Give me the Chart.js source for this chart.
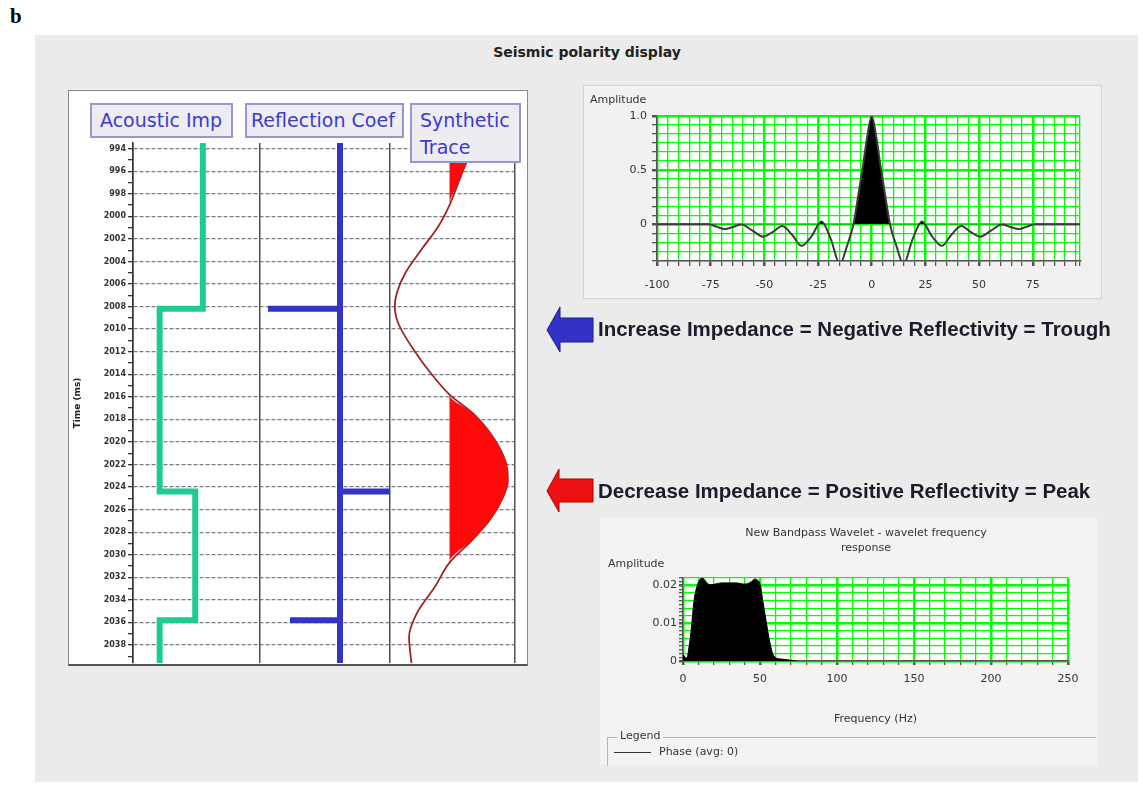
<!DOCTYPE html>
<html>
<head>
<meta charset="utf-8">
<script src="https://cdn.jsdelivr.net/npm/chart.js@4.4.1/dist/chart.umd.min.js"></script>
<style>
html,body{margin:0;padding:0;background:#fff;width:1143px;height:785px;overflow:hidden;position:relative;font-family:"DejaVu Sans",sans-serif;}
.abs{position:absolute;}
#lblB{left:10px;top:4px;font:bold 21px "Liberation Serif",serif;color:#000;}
#bg{left:35px;top:35px;width:1103px;height:747px;background:#ebebeb;}
#title{left:387px;top:44px;width:400px;text-align:center;font:bold 14px "DejaVu Sans",sans-serif;color:#222;}
#leftPanel{left:68px;top:90px;width:458px;height:573px;background:#fff;border:1px solid #8a8a8a;border-bottom:2px solid #555;}
#c1{left:68px;top:90px;z-index:2;}
.hdr{position:absolute;z-index:3;background:#ececf1;border:2px solid #9797cf;color:#3b3bd0;font:19px "DejaVu Sans",sans-serif;box-sizing:border-box;padding-left:8px;white-space:nowrap;}
#trPanel{left:583px;top:85px;width:517px;height:212px;background:#f1f1f1;border:1px solid #d2d2d2;}
#c2{left:583px;top:85px;z-index:2;}
.small{position:absolute;z-index:3;font:11px "DejaVu Sans",sans-serif;color:#333;white-space:nowrap;}
#brPanel{left:600px;top:517px;width:497px;height:248px;background:#f3f3f3;}
#c3{left:600px;top:517px;z-index:2;}
.msg{position:absolute;z-index:3;font:bold 20.5px "Liberation Sans",Arial,sans-serif;color:#1b1b2b;white-space:nowrap;}
#legFrame{left:607px;top:737px;width:488px;height:28px;border-top:1px solid #b4b4b4;border-left:1px solid #b4b4b4;z-index:3;}
</style>
</head>
<body>
<div id="lblB" class="abs">b</div>
<div id="bg" class="abs"></div>
<div id="title" class="abs">Seismic polarity display</div>

<div id="leftPanel" class="abs"></div>
<canvas id="c1" class="abs" width="459" height="581"></canvas>
<div class="hdr" style="left:90px;top:103px;width:143px;height:35px;line-height:31px;">Acoustic Imp</div>
<div class="hdr" style="left:245px;top:103px;width:159px;height:35px;line-height:31px;padding-left:4px;">Reflection Coef</div>
<div class="hdr" style="left:410px;top:103px;width:111px;height:60px;line-height:27px;padding-top:2px;">Synthetic<br>Trace</div>

<div id="trPanel" class="abs"></div>
<canvas id="c2" class="abs" width="518" height="213"></canvas>
<div class="small" style="left:590px;top:93px;">Amplitude</div>

<svg class="abs" style="left:0;top:0;z-index:3;" width="1143" height="785">
  <polygon points="547,330 560,307 560,318 593,318 593,342 560,342 560,352" fill="#3232c8" stroke="#1d1d86" stroke-width="1"/>
  <polygon points="547,491 559,469 559,479 593,479 593,502 559,502 559,512" fill="#ee1111" stroke="#a80000" stroke-width="1"/>
</svg>
<div class="msg" style="left:598px;top:317px;">Increase Impedance = Negative Reflectivity = Trough</div>
<div class="msg" style="left:598px;top:479px;">Decrease Impedance = Positive Reflectivity = Peak</div>

<div id="brPanel" class="abs"></div>
<canvas id="c3" class="abs" width="497" height="209"></canvas>
<div class="small" style="left:600px;top:525px;width:532px;text-align:center;line-height:15px;">New Bandpass Wavelet - wavelet frequency<br>response</div>
<div class="small" style="left:608px;top:557px;">Amplitude</div>
<div id="legFrame" class="abs"></div>
<div class="small" style="left:617px;top:729px;background:#f3f3f3;padding:0 3px;">Legend</div>
<div class="abs" style="left:614px;top:752px;width:37px;height:0;border-top:1.5px solid #333;z-index:3;"></div>
<div class="small" style="left:659px;top:745px;">Phase (avg: 0)</div>

<script>
// ---------------- data ----------------
const timeMin = 1993.5, timeMax = 2039.6;
const timeTickValues = [1994,1996,1998,2000,2002,2004,2006,2008,2010,2012,2014,2016,2018,2020,2022,2024,2026,2028,2030,2032,2034,2036,2038];
const timeTickLabels = ['994','996','998','2000','2002','2004','2006','2008','2010','2012','2014','2016','2018','2020','2022','2024','2026','2028','2030','2032','2034','2036','2038'];

const impLayerTops = [2008.2, 2024.4, 2035.8];
const impValues = [5.5, 2.1, 4.9, 2.1];

const rcTimes = [2008.2, 2024.4, 2035.8];
const rcValues = [-0.72, 0.5, -0.5];

const synTimes = [1993.5,1995,1997,1999,2001,2003,2005,2006.7,2008,2009.5,2012,2014,2015.8,2017.5,2019.8,2021.9,2023.4,2024.9,2026.9,2028.7,2030.7,2032.8,2035.2,2037.3,2039.6];
const synAmps  = [0.42,0.3,0.15,0,-0.2,-0.48,-0.74,-0.88,-0.92,-0.86,-0.58,-0.3,0,0.4,0.76,0.95,0.98,0.9,0.68,0.38,0,-0.24,-0.55,-0.68,-0.64];

const waveletTimes = [-100,-76,-72,-68.5,-64.5,-60.7,-55.5,-50.6,-46,-41.7,-37,-32.7,-28,-23.4,-19,-14.8,-11.5,-8.5,-6,-4,-2,0,2,4,6,8.5,11.5,14.8,19,23.4,28,32.7,37,41.7,46,50.6,55.5,60.7,64.5,68.5,72,76,97];
const waveletAmps  = [0,0,-0.025,-0.045,-0.025,-0.003,-0.06,-0.115,-0.07,-0.016,-0.1,-0.2,-0.11,0.025,-0.14,-0.37,-0.2,0,0.3,0.55,0.82,1.0,0.82,0.55,0.3,0,-0.2,-0.37,-0.14,0.025,-0.11,-0.2,-0.1,-0.016,-0.07,-0.115,-0.06,-0.003,-0.025,-0.045,-0.025,0,0];
const waveletTickValues = [-100,-75,-50,-25,0,25,50,75];
const waveletTickLabels = ['-100','-75','-50','-25','0','25','50','75'];
const ampTickValues = [0,0.5,1.0];
const ampTickLabels = ['0','0.5','1.0'];

const spectrumFreqs = [0,1,2.5,4,5.5,7,9,11,12.5,14,16,18,21,25,30,35,39,42,44.5,46.5,48.5,50,52,54,56,58,60,64,70,74];
const spectrumAmps  = [0.0016,0.0012,0.0008,0.004,0.009,0.0155,0.0197,0.0216,0.0221,0.0215,0.0205,0.0202,0.0204,0.0207,0.0207,0.0207,0.0204,0.0205,0.0211,0.0217,0.0214,0.0204,0.0155,0.0105,0.0058,0.0022,0.0009,0.0005,0.0002,0];
const freqTickValues = [0,50,100,150,200,250];
const freqTickLabels = ['0','50','100','150','200','250'];
const specTickValues = [0,0.01,0.02];
const specTickLabels = ['0','0.01','0.02'];

// ---------------- helpers ----------------
const near = (a,b)=>Math.abs(a-b)<1e-7;
const labelFor = (vals, labs) => (v)=>{ for (let i=0;i<vals.length;i++) if (near(vals[i],v)) return labs[i]; return ''; };
const isIn = (vals,v)=>vals.some(x=>near(x,v));
const plotBg = {id:'plotBg', beforeDraw(chart){const {ctx, chartArea:a}=chart; ctx.save(); ctx.fillStyle='#ffffff'; ctx.fillRect(a.left,a.top,a.width,a.height); ctx.restore();}};
Chart.defaults.font.family = '"DejaVu Sans", sans-serif';

// ---------------- left: well tracks ----------------
const bounds = [timeMin, ...impLayerTops, timeMax];
const impPoints = [];
impValues.forEach((v,i)=>{ impPoints.push({x:v,y:bounds[i]},{x:v,y:bounds[i+1]}); });
const rcPoints = [{x:0,y:timeMin}];
rcTimes.forEach((t,i)=>{ rcPoints.push({x:0,y:t},{x:rcValues[i],y:t},{x:0,y:t}); });
rcPoints.push({x:0,y:timeMax});
const synPoints = synTimes.map((t,i)=>({x:synAmps[i],y:t}));
const synFill = synTimes.map((t,i)=>({x:Math.max(0,synAmps[i]),y:t}));

const trackAxis = (w,min,max,both)=>({
  type:'linear', position:'bottom', stack:'tracks', stackWeight:w, min:min, max:max,
  ticks:{display:false}, grid:{drawTicks:false, color:'#505050', lineWidth:1.5}, border:{display:false},
  afterBuildTicks:(s)=>{ s.ticks = both ? [{value:min},{value:max}] : [{value:min}]; }
});

new Chart(document.getElementById('c1'), {
  type:'line',
  data:{datasets:[
    {label:'Acoustic Imp', data:impPoints, xAxisID:'xImp', yAxisID:'y', borderColor:'#1fcb93', borderWidth:6, pointRadius:0, tension:0, fill:false},
    {label:'Reflection Coef', data:rcPoints, xAxisID:'xRc', yAxisID:'y', borderColor:'#3434c4', borderWidth:6, pointRadius:0, tension:0, fill:false},
    {label:'Synthetic fill', data:synFill, xAxisID:'xSyn', yAxisID:'y', borderWidth:0, borderColor:'rgba(0,0,0,0)', backgroundColor:'#ff0a0a', pointRadius:0, cubicInterpolationMode:'monotone', fill:{value:0}},
    {label:'Synthetic Trace', data:synPoints, xAxisID:'xSyn', yAxisID:'y', borderColor:'#9c2626', borderWidth:1.8, pointRadius:0, cubicInterpolationMode:'monotone', fill:false}
  ]},
  options:{
    indexAxis:'y', responsive:false, animation:false, devicePixelRatio:1,
    layout:{padding:{top:53,right:12,bottom:8,left:0}},
    plugins:{legend:{display:false}, tooltip:{enabled:false}},
    scales:{
      xImp: trackAxis(127,0,10,false),
      xRc: trackAxis(130,-0.8,0.5,false),
      xSyn: trackAxis(125,-1,1.1,true),
      y:{
        type:'linear', reverse:true, min:timeMin, max:timeMax,
        afterBuildTicks:(s)=>{ const t=[]; for(let v=1994; v<=2039; v++) t.push({value:v}); s.ticks=t; },
        ticks:{autoSkip:false, callback:labelFor(timeTickValues,timeTickLabels), font:{size:8, weight:'bold'}, color:'#333', padding:2},
        grid:{color:(c)=> (c.tick && isIn(timeTickValues,c.tick.value)) ? 'rgba(100,100,118,0.85)' : 'rgba(0,0,0,0)', lineWidth:1.3, tickColor:'#333', tickLength:5},
        border:{display:true, color:'#333', width:1.5, dash:[4,2]},
        title:{display:true, text:'Time (ms)', font:{size:9, weight:'bold'}, color:'#222', padding:{top:4,bottom:0}},
        afterFit:(s)=>{ s.width = 65; }
      }
    }
  }
});

// ---------------- top right: wavelet ----------------
new Chart(document.getElementById('c2'), {
  type:'line',
  data:{datasets:[{label:'Wavelet', data:waveletTimes.map((t,i)=>({x:t,y:waveletAmps[i]})), borderColor:'#3a3a3a', borderWidth:2, pointRadius:0, cubicInterpolationMode:'monotone', fill:{target:{value:0}, above:'#000000', below:'rgba(0,0,0,0)'}}]},
  options:{
    responsive:false, animation:false, devicePixelRatio:1,
    layout:{padding:{top:31,right:21,bottom:0,left:0}},
    plugins:{legend:{display:false}, tooltip:{enabled:false}},
    scales:{
      x:{type:'linear', min:-100, max:97,
        afterBuildTicks:(s)=>{ const t=[]; for(let v=-100; v<=95; v+=5) t.push({value:v}); t.push({value:97}); s.ticks=t; },
        ticks:{autoSkip:false, maxRotation:0, callback:labelFor(waveletTickValues,waveletTickLabels), font:{size:11}, color:'#333', padding:13},
        grid:{color:'#00ff00', lineWidth:(c)=> (c.tick && c.tick.value%25===0) ? 2.5 : 1.3, tickColor:'#555', tickLength:5},
        border:{color:'#555', width:1.5},
        afterFit:(s)=>{ s.height = 37; }
      },
      y:{type:'linear', min:-0.34, max:1.0,
        afterBuildTicks:(s)=>{ const t=[]; for(let i=-4;i<=12;i++) t.push({value:i/12}); s.ticks=t; },
        ticks:{autoSkip:false, callback:labelFor(ampTickValues,ampTickLabels), font:{size:11}, color:'#333', padding:5},
        grid:{color:'#00ff00', lineWidth:(c)=> (c.tick && isIn(ampTickValues,c.tick.value)) ? 2.5 : 1.3, tickColor:'#555', tickLength:5},
        border:{color:'#555', width:1.5},
        afterFit:(s)=>{ s.width = 74; }
      }
    }
  },
  plugins:[plotBg]
});

// ---------------- bottom right: spectrum ----------------
new Chart(document.getElementById('c3'), {
  type:'line',
  data:{datasets:[{label:'Amplitude', data:spectrumFreqs.map((f,i)=>({x:f,y:spectrumAmps[i]})), borderColor:'#000', borderWidth:1, pointRadius:0, cubicInterpolationMode:'monotone', fill:'origin', backgroundColor:'#000'}]},
  options:{
    responsive:false, animation:false, devicePixelRatio:1,
    layout:{padding:{top:61,right:29,bottom:0,left:0}},
    plugins:{legend:{display:false}, tooltip:{enabled:false}},
    scales:{
      x:{type:'linear', min:0, max:250,
        afterBuildTicks:(s)=>{ const t=[]; for(let v=0; v<=250; v+=10) t.push({value:v}); s.ticks=t; },
        ticks:{autoSkip:false, maxRotation:0, callback:labelFor(freqTickValues,freqTickLabels), font:{size:11}, color:'#333', padding:8},
        grid:{color:'#00ff00', lineWidth:(c)=> (c.tick && c.tick.value%50===0) ? 2.5 : 1.3, tickColor:'#555', tickLength:4},
        border:{color:'#555', width:1.5},
        title:{display:true, text:'Frequency (Hz)', font:{size:11}, color:'#333', padding:0},
        afterFit:(s)=>{ s.height = 65; }
      },
      y:{type:'linear', min:0, max:0.022,
        afterBuildTicks:(s)=>{ const t=[]; for(let i=0;i<=22;i++) t.push({value:i/1000}); s.ticks=t; },
        ticks:{autoSkip:false, callback:labelFor(specTickValues,specTickLabels), font:{size:11}, color:'#333', padding:2},
        grid:{color:(c)=>{ if(!c.tick) return '#00ff00'; const k=Math.round(c.tick.value*1000); return (k%2===0) ? '#00ff00' : 'rgba(0,0,0,0)'; },
              lineWidth:(c)=> (c.tick && isIn(specTickValues,c.tick.value)) ? 2.5 : 1.3, tickColor:'#555', tickLength:4},
        border:{color:'#555', width:1.5},
        afterFit:(s)=>{ s.width = 83; }
      }
    }
  },
  plugins:[plotBg]
});
</script>
</body>
</html>
